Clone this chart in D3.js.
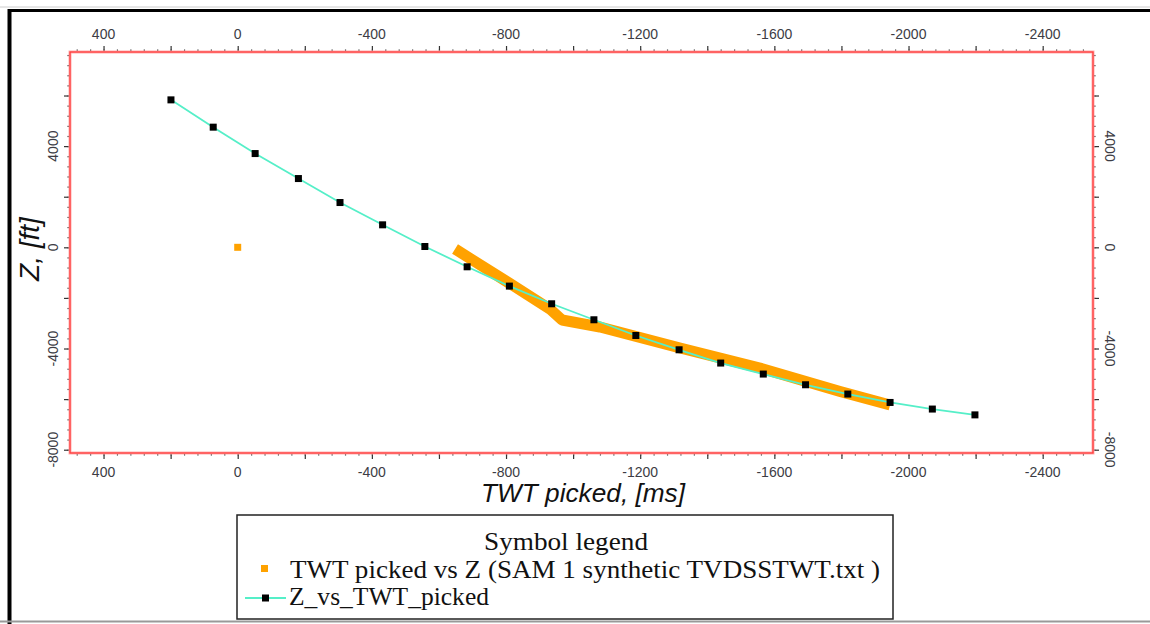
<!DOCTYPE html>
<html>
<head>
  <title>TWT picked vs Z</title>
  <meta charset="utf8">
  <style type="text/css">
    body { margin: 0; background: #fff; }
    svg { display: block; }
    .tick-label { font-family: "Liberation Sans", Arial, sans-serif; font-size: 14px; fill: #3c3c44; }
    .axis-title { font-family: "Liberation Sans", Arial, sans-serif; font-size: 25px; font-style: italic; fill: #111; }
    .legend text { font-family: "Liberation Serif", "Times New Roman", serif; font-size: 25px; fill: #111; }
  </style>
</head>
<body>

<script src="https://d3js.org/d3.v7.min.js"></script>

<script type="text/javascript">
var width = 1150, height = 624;

// Z_vs_TWT_picked (cyan line, black squares)
var lineTWT = [199, 73, -52, -181, -305, -432, -558, -684, -810, -936, -1062, -1187, -1316, -1440, -1567, -1693, -1819, -1945, -2071, -2198];
var lineZ   = [5828, 4749, 3706, 2718, 1770, 889, 32, -770, -1533, -2232, -2864, -3485, -4050, -4575, -5010, -5433, -5800, -6132, -6393, -6623];

// TWT picked vs Z (orange band of picks)
var bandTWT = [-648, -809, -931, -967, -1080, -1319, -1557, -1796, -1945];
var bandZ   = [-67, -1411, -2439, -2874, -3150, -3980, -4771, -5700, -6233];

// lone orange pick
var pickTWT = [0];
var pickZ   = [0];

var xTickLabels = [400, 0, -400, -800, -1200, -1600, -2000, -2400];
var yTickLabels = [4000, 0, -4000, -8000];

var legendTitle = 'Symbol legend';
var legendNames = ['TWT picked vs Z (SAM 1 synthetic TVDSSTWT.txt )', 'Z_vs_TWT_picked'];

var plot = { left: 70, top: 52, right: 1093, bottom: 453 };

var x = d3.scaleLinear().domain([500, -2550]).range([plot.left, plot.right]);
var y = d3.scaleLinear().domain([7720, -8130]).range([plot.top, plot.bottom]);

var svg = d3.select('body').append('svg')
    .attr('width', width)
    .attr('height', height);

// outer frame of the screenshot
svg.append('line').attr('x1', 0).attr('x2', width).attr('y1', 7).attr('y2', 7)
  .style('stroke', '#ccc').style('stroke-width', 1);
svg.append('line').attr('x1', 8).attr('x2', width).attr('y1', 10.5).attr('y2', 10.5)
  .style('stroke', '#000').style('stroke-width', 3);
svg.append('line').attr('x1', 9.5).attr('x2', 9.5).attr('y1', 9).attr('y2', height)
  .style('stroke', '#000').style('stroke-width', 4);
svg.append('line').attr('x1', 0).attr('x2', width).attr('y1', 621.5).attr('y2', 621.5)
  .style('stroke', '#999').style('stroke-width', 2);

// ticks
var minorX = d3.range(480, -2560, -40),
    majorX = d3.range(400, -2560, -200),
    minorY = d3.range(7600, -8200, -400),
    majorY = d3.range(6000, -8200, -2000);

function tickStyle(g) {
  g.select('.domain').remove();
  g.selectAll('.tick line').style('stroke', '#333').style('stroke-width', 1.2);
  g.selectAll('.tick text').remove();
}

svg.append('g').attr('transform', 'translate(0,' + plot.top + ')')
  .call(d3.axisTop(x).tickValues(minorX).tickSize(2.5)).call(tickStyle);
svg.append('g').attr('transform', 'translate(0,' + plot.top + ')')
  .call(d3.axisTop(x).tickValues(majorX).tickSize(6)).call(tickStyle);
svg.append('g').attr('transform', 'translate(0,' + plot.bottom + ')')
  .call(d3.axisBottom(x).tickValues(minorX).tickSize(2.5)).call(tickStyle);
svg.append('g').attr('transform', 'translate(0,' + plot.bottom + ')')
  .call(d3.axisBottom(x).tickValues(majorX).tickSize(6)).call(tickStyle);
svg.append('g').attr('transform', 'translate(' + plot.left + ',0)')
  .call(d3.axisLeft(y).tickValues(minorY).tickSize(2.5)).call(tickStyle);
svg.append('g').attr('transform', 'translate(' + plot.left + ',0)')
  .call(d3.axisLeft(y).tickValues(majorY).tickSize(6)).call(tickStyle);
svg.append('g').attr('transform', 'translate(' + plot.right + ',0)')
  .call(d3.axisRight(y).tickValues(minorY).tickSize(2.5)).call(tickStyle);
svg.append('g').attr('transform', 'translate(' + plot.right + ',0)')
  .call(d3.axisRight(y).tickValues(majorY).tickSize(6)).call(tickStyle);

// red plot border
svg.append('rect')
  .attr('x', plot.left).attr('y', plot.top)
  .attr('width', plot.right - plot.left).attr('height', plot.bottom - plot.top)
  .style('fill', 'none').style('stroke', '#ffb0b0').style('stroke-width', 3);
svg.append('rect')
  .attr('x', plot.left).attr('y', plot.top)
  .attr('width', plot.right - plot.left).attr('height', plot.bottom - plot.top)
  .style('fill', 'none').style('stroke', '#ff3b3b').style('stroke-width', 1.3);

// tick labels
svg.selectAll('.xt-top').data(xTickLabels).enter().append('text')
  .attr('class', 'tick-label')
  .attr('x', function(d) { return x(d); })
  .attr('y', 39)
  .attr('text-anchor', 'middle')
  .text(function(d) { return d; });

svg.selectAll('.xt-bot').data(xTickLabels).enter().append('text')
  .attr('class', 'tick-label')
  .attr('x', function(d) { return x(d); })
  .attr('y', 477)
  .attr('text-anchor', 'middle')
  .text(function(d) { return d; });

svg.selectAll('.yt-left').data(yTickLabels).enter().append('text')
  .attr('class', 'tick-label')
  .attr('transform', function(d) { return 'translate(58,' + y(d) + ') rotate(-90)'; })
  .attr('text-anchor', 'middle')
  .text(function(d) { return d; });

svg.selectAll('.yt-right').data(yTickLabels).enter().append('text')
  .attr('class', 'tick-label')
  .attr('transform', function(d) { return 'translate(1105,' + y(d) + ') rotate(90)'; })
  .attr('text-anchor', 'middle')
  .text(function(d) { return d; });

// axis titles
svg.append('text')
  .attr('class', 'axis-title')
  .attr('x', 583).attr('y', 502)
  .attr('text-anchor', 'middle')
  .attr('textLength', 204).attr('lengthAdjust', 'spacingAndGlyphs')
  .text('TWT picked, [ms]');

svg.append('text')
  .attr('class', 'axis-title')
  .attr('transform', 'translate(39,249) rotate(-90)')
  .attr('text-anchor', 'middle')
  .style('font-size', '28px')
  .text('Z, [ft]');

// orange band of picks
var bandData = bandTWT.map(function(t, i) { return [t, bandZ[i]]; });
var lineData = lineTWT.map(function(t, i) { return [t, lineZ[i]]; });

var line = d3.line()
  .x(function(d) { return x(d[0]); })
  .y(function(d) { return y(d[1]); });

svg.append('path')
  .datum(bandData)
  .attr('d', line)
  .style('fill', 'none')
  .style('stroke', '#ffa200')
  .style('stroke-width', 11)
  .style('stroke-linejoin', 'round')
  .style('stroke-linecap', 'butt');

svg.selectAll('.pick').data(pickTWT).enter().append('rect')
  .attr('x', function(d) { return x(d) - 3.5; })
  .attr('y', function(d, i) { return y(pickZ[i]) - 3.5; })
  .attr('width', 7).attr('height', 7)
  .style('fill', '#ffa200');

// cyan line with black squares
svg.append('path')
  .datum(lineData)
  .attr('d', line)
  .style('fill', 'none')
  .style('stroke', '#55efc8')
  .style('stroke-width', 1.8);

svg.selectAll('.sq').data(lineData).enter().append('rect')
  .attr('x', function(d) { return x(d[0]) - 3.5; })
  .attr('y', function(d) { return y(d[1]) - 3.5; })
  .attr('width', 7).attr('height', 7)
  .style('fill', '#000');

// legend
var legend = svg.append('g').attr('class', 'legend');

legend.append('rect')
  .attr('x', 237).attr('y', 515)
  .attr('width', 656).attr('height', 104)
  .style('fill', '#fff').style('stroke', '#222').style('stroke-width', 1.5);

legend.append('text')
  .attr('x', 566).attr('y', 550)
  .attr('text-anchor', 'middle')
  .attr('textLength', 164).attr('lengthAdjust', 'spacingAndGlyphs')
  .text(legendTitle);

legend.append('rect')
  .attr('x', 261).attr('y', 565).attr('width', 7).attr('height', 7)
  .style('fill', '#ffa200');

legend.append('text')
  .attr('x', 290).attr('y', 578)
  .attr('textLength', 590).attr('lengthAdjust', 'spacingAndGlyphs')
  .text(legendNames[0]);

legend.append('line')
  .attr('x1', 245).attr('x2', 286).attr('y1', 598).attr('y2', 598)
  .style('stroke', '#55efc8').style('stroke-width', 1.8);
legend.append('rect')
  .attr('x', 262).attr('y', 594.5).attr('width', 7).attr('height', 7)
  .style('fill', '#000');

legend.append('text')
  .attr('x', 289).attr('y', 605)
  .attr('textLength', 200).attr('lengthAdjust', 'spacingAndGlyphs')
  .text(legendNames[1]);

</script>

</body>
</html>
